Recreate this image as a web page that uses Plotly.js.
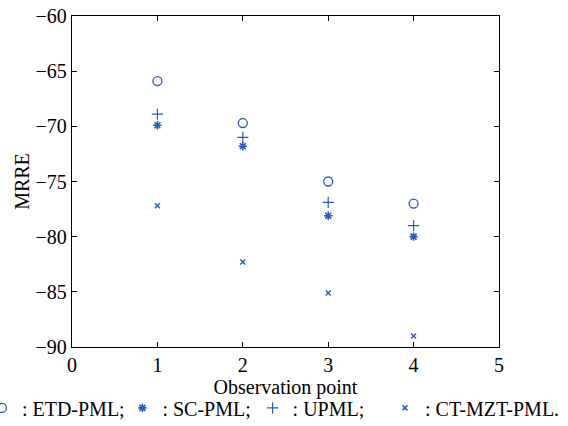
<!DOCTYPE html>
<html>
<head>
<meta charset="utf-8">
<script src="https://cdn.plot.ly/plotly-3.0.1.min.js"></script>
<style>html,body{margin:0;padding:0;background:#fff;}#chart{width:568px;height:426px;}</style>
</head>
<body>
<div id="chart"></div>
<script>
const observationPoints = [1, 2, 3, 4];
const etdPml = [-65.9, -69.7, -75.0, -77.0];
const scPml = [-69.9, -71.8, -78.1, -80.0];
const upml = [-68.9, -71.0, -76.9, -79.0];
const ctMztPml = [-77.2, -82.3, -85.1, -89.0];
const seriesNames = [': ETD-PML;', ': SC-PML;', ': UPML;', ': CT-MZT-PML.'];
const xTicks = [0, 1, 2, 3, 4, 5];
const yTicks = [-90, -85, -80, -75, -70, -65, -60];

const blue = '#2d5bbd';
const font = "'Liberation Serif', 'Times New Roman', serif";

const traces = [
  {x: observationPoints, y: etdPml, name: seriesNames[0], legend: 'legend', mode: 'markers', type: 'scatter',
   marker: {symbol: 'circle-open', size: 9, color: blue, line: {width: 1.3, color: blue}}},
  {x: observationPoints, y: scPml, name: seriesNames[1], legend: 'legend2', mode: 'markers', type: 'scatter',
   marker: {symbol: 'asterisk-open', size: 7, color: blue, line: {width: 1.6, color: blue}}},
  {x: observationPoints, y: upml, name: seriesNames[2], legend: 'legend3', mode: 'markers', type: 'scatter',
   marker: {symbol: 'cross-thin-open', size: 8, color: blue, line: {width: 1.2, color: blue}}},
  {x: observationPoints, y: ctMztPml, name: seriesNames[3], legend: 'legend4', mode: 'markers', type: 'scatter',
   marker: {symbol: 'x-thin-open', size: 5, color: blue, line: {width: 1.5, color: blue}}}
];

const axisCommon = {
  showgrid: false, zeroline: false, showline: true, linecolor: '#000', linewidth: 1.3,
  mirror: 'ticks', ticks: 'inside', ticklen: 5, tickwidth: 1, tickcolor: '#000',
  tickfont: {family: font, size: 20, color: '#000'}
};

function legendAt(x) {
  return {
    orientation: 'h', xref: 'paper', yref: 'paper',
    x: x, xanchor: 'left', y: -0.184, yanchor: 'middle',
    font: {family: font, size: 20, color: '#000'},
    bgcolor: 'rgba(0,0,0,0)', borderwidth: 0, itemclick: false
  };
}

const layout = {
  width: 568, height: 426,
  margin: {l: 72, r: 69, t: 16, b: 79, autoexpand: false},
  paper_bgcolor: '#fff', plot_bgcolor: '#fff',
  font: {family: font, size: 20, color: '#000'},
  xaxis: Object.assign({}, axisCommon, {
    range: [0, 5], tickmode: 'array', tickvals: xTicks,
    title: {text: 'Observation point', font: {family: font, size: 20, color: '#000'}, standoff: 0}
  }),
  yaxis: Object.assign({}, axisCommon, {
    range: [-90, -60], tickmode: 'array', tickvals: yTicks,
    title: {text: 'MRRE', font: {family: font, size: 20, color: '#000'}, standoff: 0}
  }),
  showlegend: true,
  legend: legendAt(-0.211),
  legend2: legendAt(0.118),
  legend3: legendAt(0.423),
  legend4: legendAt(0.733)
};

Plotly.newPlot('chart', traces, layout, {displayModeBar: false, staticPlot: true});
</script>
</body>
</html>
